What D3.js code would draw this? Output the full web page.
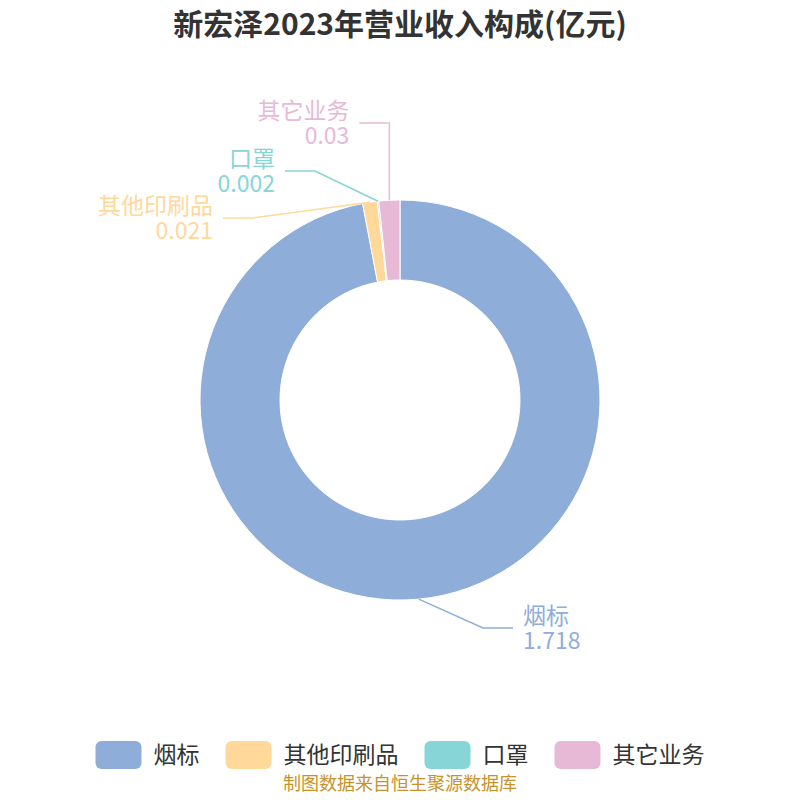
<!DOCTYPE html>
<html><head><meta charset="utf-8">
<script src="https://cdn.jsdelivr.net/npm/d3@7/dist/d3.min.js"></script>
<style>body{margin:0;background:#fff;}svg{display:block;font-family:"Microsoft YaHei","Noto Sans CJK SC",sans-serif;}</style>
</head><body><svg id="c" width="800" height="800"></svg>
<script>
const categories = ["烟标", "其他印刷品", "口罩", "其它业务"];
const values = [1.718, 0.021, 0.002, 0.03];
const valueLabels = ["1.718", "0.021", "0.002", "0.03"];
const colors = ["#8eaed9", "#ffd89a", "#88d5d7", "#e7b9d7"];
const titleText = "新宏泽2023年营业收入构成(亿元)";
const sourceText = "制图数据来自恒生聚源数据库";
// label elbow layout (offsets from centre), layout only
const labelElbows = [[83, 228], [-147, -182], [-85, -229], [null, -277]];

const svg = d3.select("#c");
const cx = 400, cy = 400, rO = 200, rI = 120;

svg.append("text").attr("x", 400).attr("y", 35).attr("text-anchor", "middle")
  .attr("font-size", 30).attr("font-weight", "bold").attr("fill", "#333").text(titleText);

const data = categories.map((c, i) => ({name: c, value: values[i], label: valueLabels[i], color: colors[i], elbow: labelElbows[i]}));
const pie = d3.pie().value(d => d.value).sort(null);
const arcs = pie(data);
const arc = d3.arc().innerRadius(rI).outerRadius(rO);
const g = svg.append("g").attr("transform", `translate(${cx},${cy})`);
g.selectAll("path.s").data(arcs).join("path").attr("class", "s")
  .attr("d", arc).attr("fill", d => d.data.color).attr("stroke", "#fff").attr("stroke-width", 1);

arcs.forEach(a => {
  const mid = (a.startAngle + a.endAngle) / 2;
  const p0 = [rO * Math.sin(mid), -rO * Math.cos(mid)];
  const ex = a.data.elbow[0] === null ? p0[0] : a.data.elbow[0];
  const ey = a.data.elbow[1];
  const right = ex > 0 && a.data.elbow[0] !== null;
  const endX = right ? ex + 30 : ex - 30;
  g.append("polyline").attr("points", [p0, [ex, ey], [endX, ey]].map(p => p.join(",")).join(" "))
    .attr("fill", "none").attr("stroke", a.data.color).attr("stroke-width", 1.5);
  const tx = right ? endX + 10 : endX - 10;
  const anchor = right ? "start" : "end";
  g.append("text").attr("x", tx).attr("y", ey - 12.5).attr("dy", "0.36em").attr("text-anchor", anchor)
    .attr("font-size", 23).attr("fill", a.data.color).text(a.data.name);
  g.append("text").attr("x", tx).attr("y", ey + 12.5).attr("dy", "0.36em").attr("text-anchor", anchor)
    .attr("font-size", 23).attr("fill", a.data.color).text(a.data.label);
});

// legend
const lg = svg.append("g");
const items = [];
data.forEach(d => {
  const it = lg.append("g");
  it.append("rect").attr("x", 0).attr("y", 0).attr("width", 46).attr("height", 28).attr("rx", 6).attr("fill", d.color);
  const t = it.append("text").attr("x", 58).attr("y", 14).attr("dy", "0.36em").attr("font-size", 23).attr("fill", "#333").text(d.name);
  const w = 58 + t.node().getComputedTextLength();
  items.push({it, w});
});
const gap = 26;
const total = d3.sum(items, d => d.w) + gap * (items.length - 1);
let lx = 400 - total / 2;
items.forEach(d => { d.it.attr("transform", `translate(${lx},741)`); lx += d.w + gap; });

svg.append("text").attr("x", 400).attr("y", 790).attr("text-anchor", "middle")
  .attr("font-size", 18).attr("fill", "#c8922a").text(sourceText);
</script></body></html>
